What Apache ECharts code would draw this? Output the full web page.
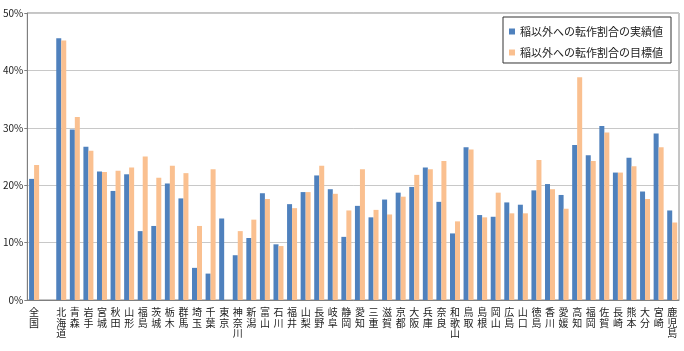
<!DOCTYPE html>
<html lang="ja">
<head>
	<meta charset="UTF-8">
	<title>転作割合</title>
	<script src="https://cdn.jsdelivr.net/npm/echarts@6/dist/echarts.min.js"></script>
	<style>
		html, body { margin: 0; padding: 0; background: #fff; }
		#container { width: 684px; height: 351px; }
	</style>
</head>
<body>
	<div id="container"></div>
	<script>
		// 都道府県（全国の後に空の区切り）
		var prefs = ['全国', '', '北海道', '青森', '岩手', '宮城', '秋田', '山形', '福島', '茨城', '栃木', '群馬',
			'埼玉', '千葉', '東京', '神奈川', '新潟', '富山', '石川', '福井', '山梨', '長野', '岐阜', '静岡',
			'愛知', '三重', '滋賀', '京都', '大阪', '兵庫', '奈良', '和歌山', '鳥取', '島根', '岡山', '広島',
			'山口', '徳島', '香川', '愛媛', '高知', '福岡', '佐賀', '長崎', '熊本', '大分', '宮崎', '鹿児島'];

		// 実績値 (%)
		var actual = [21.1, null, 45.6, 29.7, 26.7, 22.4, 19.0, 21.9, 12.0, 12.9, 20.3, 17.7,
			5.6, 4.6, 14.2, 7.8, 10.8, 18.6, 9.7, 16.7, 18.8, 21.7, 19.3, 11.0,
			16.4, 14.4, 17.5, 18.7, 19.7, 23.1, 17.1, 11.6, 26.6, 14.8, 14.5, 17.0,
			16.6, 19.1, 20.2, 18.3, 27.0, 25.2, 30.3, 22.2, 24.8, 18.9, 29.0, 15.6];

		// 目標値 (%)
		var target = [23.5, null, 45.2, 31.9, 26.0, 22.3, 22.5, 23.1, 25.0, 21.3, 23.4, 22.1,
			12.9, 22.8, null, 12.0, 14.0, 17.6, 9.4, 16.0, 18.8, 23.4, 18.5, 15.6,
			22.8, 15.7, 14.9, 18.0, 21.8, 22.8, 24.2, 13.7, 26.2, 14.4, 18.7, 15.1,
			15.1, 24.4, 19.3, 15.9, 38.8, 24.2, 29.2, 22.2, 23.3, 17.6, 26.6, 13.5];

		var names = ['稲以外への転作割合の実績値', '稲以外への転作割合の目標値'];

		var myChart = echarts.init(document.getElementById('container'));
		var option = {
			animation: false,
			textStyle: { fontFamily: '"Noto Sans CJK JP", sans-serif' },
			grid: {
				left: 25, right: 5, top: 13, bottom: 51,
				show: true, borderColor: '#8a8a8a', borderWidth: 1
			},
			legend: {
				orient: 'vertical',
				right: 13, top: 17,
				data: names,
				icon: 'rect',
				itemWidth: 6, itemHeight: 6, itemGap: 10,
				padding: [9, 8, 5, 6],
				borderColor: '#333', borderWidth: 1,
				backgroundColor: '#fff',
				textStyle: { fontSize: 11, color: '#222' }
			},
			xAxis: {
				type: 'category',
				data: prefs,
				axisLine: { lineStyle: { color: '#7f7f7f' } },
				axisTick: { length: 4, lineStyle: { color: '#7f7f7f' } },
				axisLabel: {
					interval: 0,
					fontSize: 10,
					lineHeight: 10.5,
					color: '#222',
					verticalAlign: 'top',
					margin: 7,
					formatter: function (v) { return v.split('').join('\n'); }
				}
			},
			yAxis: {
				type: 'value',
				min: 0, max: 50, interval: 10,
				axisLine: { show: true, lineStyle: { color: '#7f7f7f' } },
				axisTick: { show: true, length: 3, lineStyle: { color: '#7f7f7f' } },
				splitLine: { lineStyle: { color: '#c8c8c8' } },
				axisLabel: { fontSize: 10, color: '#222', margin: 4, formatter: '{value}%' }
			},
			series: [
				{
					name: names[0], type: 'bar', data: actual,
					barWidth: 5, barGap: '0%',
					itemStyle: { color: '#4f81bd' }
				},
				{
					name: names[1], type: 'bar', data: target,
					barWidth: 5,
					itemStyle: { color: '#fac090' }
				}
			]
		};
		myChart.setOption(option);
	</script>
</body>
</html>
